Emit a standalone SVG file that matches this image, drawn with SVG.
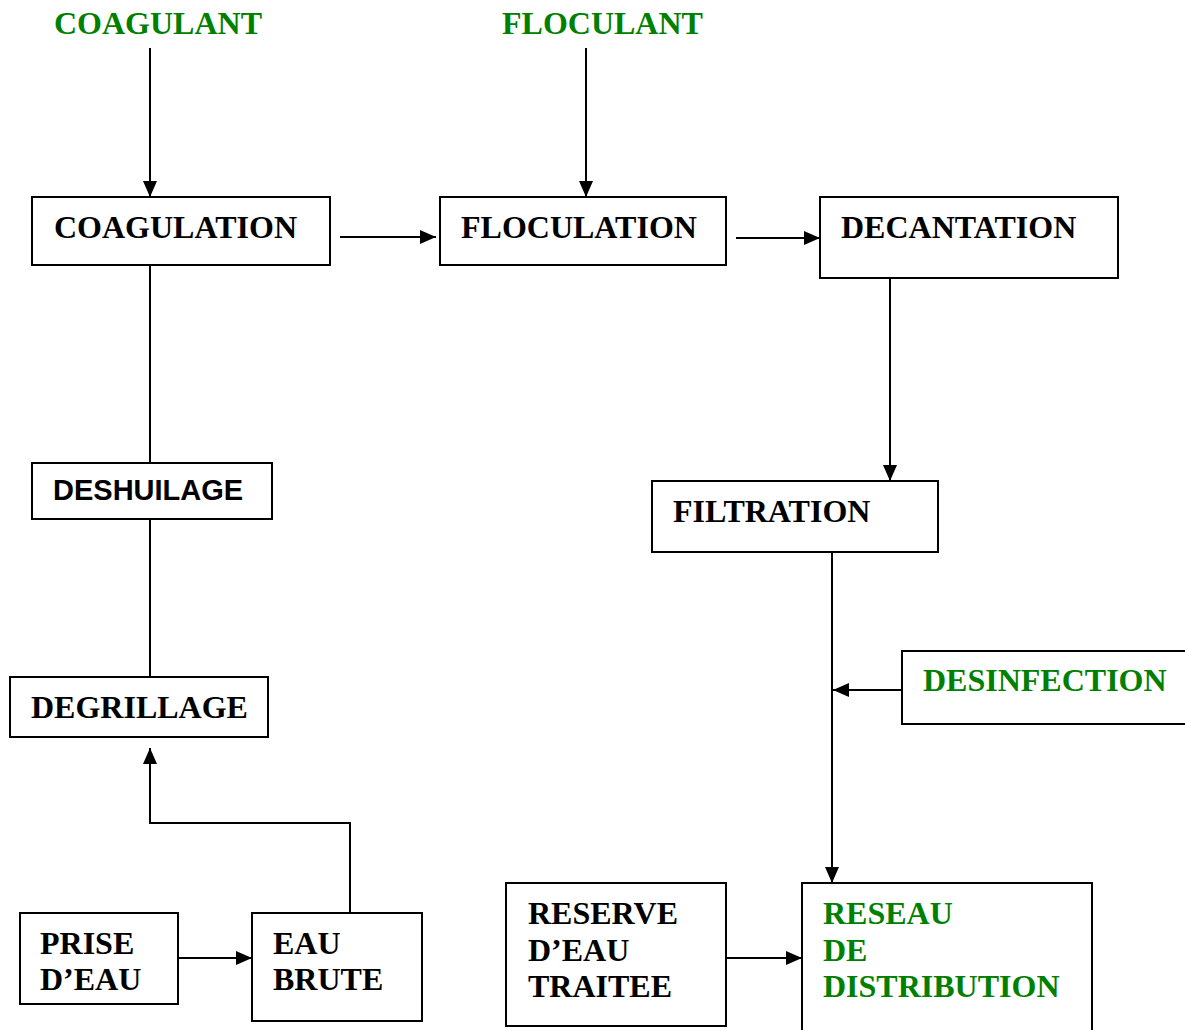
<svg xmlns="http://www.w3.org/2000/svg" width="1185" height="1030" viewBox="0 0 1185 1030">
<style>
.box{fill:#fff;stroke:#000;stroke-width:2}
.t{font-family:"Liberation Serif","Times New Roman",serif;font-weight:bold;font-size:32px;fill:#000}
.g{fill:#008000}
.a{font-family:"Liberation Sans",Arial,sans-serif;font-weight:bold;font-size:29px;fill:#000}
.c{fill:none;stroke:#000;stroke-width:2}
.ca{fill:none;stroke:#000;stroke-width:2;marker-end:url(#ah)}
</style>
<defs>
<marker id="ah" markerWidth="16" markerHeight="14" refX="16" refY="7" orient="auto" markerUnits="userSpaceOnUse">
<path d="M0,0 L16,7 L0,14 Z" fill="#000"/>
</marker>
</defs>
<rect width="1185" height="1030" fill="#fff"/>
<g id="connectors">
<line class="ca" x1="150" y1="48" x2="150" y2="197"/>
<line class="ca" x1="586" y1="48" x2="586" y2="197"/>
<line class="ca" x1="340" y1="237" x2="436" y2="237"/>
<line class="ca" x1="736" y1="238" x2="820" y2="238"/>
<line class="ca" x1="890" y1="278" x2="890" y2="481"/>
<line class="ca" x1="832" y1="552" x2="832" y2="883"/>
<line class="ca" x1="902" y1="690" x2="833" y2="690"/>
<line class="ca" x1="726" y1="958" x2="802" y2="958"/>
<line class="ca" x1="178" y1="958" x2="252" y2="958"/>
<polyline class="ca" points="350,913 350,823 150,823 150,748"/>
<line class="c" x1="150" y1="265" x2="150" y2="463"/>
<line class="c" x1="150" y1="519" x2="150" y2="677"/>
</g>
<g id="coagulant"><text class="t g" x="54" y="34">COAGULANT</text></g>
<g id="floculant"><text class="t g" x="502" y="34">FLOCULANT</text></g>
<g id="coagulation"><rect class="box" x="32" y="197" width="298" height="68"/><text class="t" x="54" y="238">COAGULATION</text></g>
<g id="floculation"><rect class="box" x="440" y="197" width="286" height="68"/><text class="t" x="461" y="238">FLOCULATION</text></g>
<g id="decantation"><rect class="box" x="820" y="197" width="298" height="81"/><text class="t" x="841" y="238">DECANTATION</text></g>
<g id="filtration"><rect class="box" x="652" y="481" width="286" height="71"/><text class="t" x="673" y="522">FILTRATION</text></g>
<g id="desinfection"><rect class="box" x="902" y="651" width="290" height="73"/><text class="t g" x="923" y="691">DESINFECTION</text></g>
<g id="deshuilage"><rect class="box" x="32" y="463" width="240" height="56"/><text class="a" x="53" y="500">DESHUILAGE</text></g>
<g id="degrillage"><rect class="box" x="10" y="677" width="258" height="60"/><text class="t" x="31" y="718">DEGRILLAGE</text></g>
<g id="prise"><rect class="box" x="20" y="913" width="158" height="91"/><text class="t" x="40" y="954">PRISE</text><text class="t" x="40" y="990">D’EAU</text></g>
<g id="eaubrute"><rect class="box" x="252" y="913" width="170" height="108"/><text class="t" x="273" y="954">EAU</text><text class="t" x="273" y="990">BRUTE</text></g>
<g id="reserve"><rect class="box" x="506" y="883" width="220" height="143"/><text class="t" x="528" y="924">RESERVE</text><text class="t" x="528" y="961">D’EAU</text><text class="t" x="528" y="997">TRAITEE</text></g>
<g id="reseau"><rect class="box" x="802" y="883" width="290" height="160"/><text class="t g" x="823" y="924">RESEAU</text><text class="t g" x="823" y="961">DE</text><text class="t g" x="823" y="997">DISTRIBUTION</text></g>
</svg>
